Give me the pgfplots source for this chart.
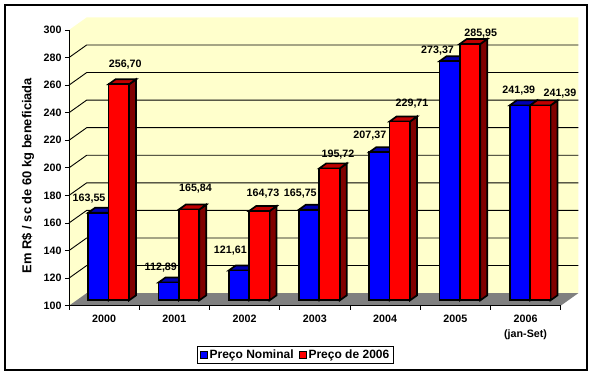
\documentclass[border=0pt]{standalone}
\usepackage{fontspec}
\setmainfont{Liberation Sans}
\usepackage{pgfplots}
\pgfplotsset{compat=1.18}
\usepackage{pgfplotstable}
\usetikzlibrary{calc}

\definecolor{wall}{RGB}{255,255,204}
\definecolor{floorc}{RGB}{128,128,128}
\definecolor{bfront}{RGB}{0,0,255}
\definecolor{btop}{RGB}{0,0,176}
\definecolor{bside}{RGB}{0,0,128}
\definecolor{rfront}{RGB}{255,0,0}
\definecolor{rtop}{RGB}{192,0,0}
\definecolor{rside}{RGB}{128,0,0}

\pgfplotstableread{
x v lx ly
0 163.55 -1.7 19.1
1 112.89 -0.2 19.9
2 121.61 -0.9 25.2
3 165.75 -1.2 21.1
4 207.37 -1.9 21.7
5 273.37 -4.4 15.7
6 241.39 6.6 19.8
}\nominal

\pgfplotstableread{
x v lx ly
0 256.70 14.1 25.5
1 165.84 14.1 25.9
2 164.73 11.4 22.5
3 195.72 16.1 18.8
4 229.71 19.9 22.9
5 285.95 18.4 15.4
6 241.39 27.4 16.8
}\real

% 3D bar drawn as a plot mark: front face, top face, right side face
\newcommand\prism[3]{%
  \pgfscope
  \pgfmathsetmacro\hh{(\rv-100)*1.3785}%
  \pgfsetlinewidth{1.7pt}\pgfsetstrokecolor{black}\pgfsetmiterjoin
  \pgfsetfillcolor{#3}%
  \pgfpathmoveto{\pgfpoint{17.95pt}{5.4pt-\hh pt}}%
  \pgfpathlineto{\pgfpoint{24.95pt}{10.4pt-\hh pt}}%
  \pgfpathlineto{\pgfpoint{24.95pt}{10.4pt}}%
  \pgfpathlineto{\pgfpoint{17.95pt}{5.4pt}}%
  \pgfpathclose\pgfusepath{fill,stroke}%
  \pgfsetfillcolor{#2}%
  \pgfpathmoveto{\pgfpoint{-2.55pt}{5.4pt}}%
  \pgfpathlineto{\pgfpoint{17.95pt}{5.4pt}}%
  \pgfpathlineto{\pgfpoint{24.95pt}{10.4pt}}%
  \pgfpathlineto{\pgfpoint{4.45pt}{10.4pt}}%
  \pgfpathclose\pgfusepath{fill,stroke}%
  \pgfsetfillcolor{#1}%
  \pgfpathrectangle{\pgfpoint{-2.55pt}{5.4pt-\hh pt}}{\pgfpoint{20.5pt}{\hh pt}}%
  \pgfusepath{fill,stroke}%
  \endpgfscope
}
\pgfdeclareplotmark{prismB}{\prism{bfront}{btop}{bside}}
\pgfdeclareplotmark{prismR}{\prism{rfront}{rtop}{rside}}

\begin{document}
\begin{tikzpicture}
\useasboundingbox (-69pt,-70.3pt) rectangle (525pt,305.7pt);
\begin{axis}[
  scale only axis,
  width=491.7pt, height=275.7pt,
  xmin=-0.5, xmax=6.5, ymin=100, ymax=300,
  clip=false,
  axis on top,
  axis x line*=bottom, axis y line*=left,
  axis line style={-, line width=0.9pt},
  tick align=outside,
  major tick length=4pt,
  tick style={black, line width=0.9pt},
  /pgf/number format/assume math mode=true,
  ytick={100,120,...,300},
  xtick={-0.5,0.5,...,6.5},
  xticklabels={,,,,,,,,},
  extra x ticks={0,1,...,6},
  extra x tick labels={2000,2001,2002,2003,2004,2005,{2006\\(jan-Set)}},
  extra x tick style={tick style={draw=none}},
  tick label style={font=\fontsize{10.7}{14.5}\selectfont\bfseries},
  xticklabel style={align=center, yshift=-2pt},
  ylabel={Em R\$ / sc de 60 kg beneficiada},
  ylabel style={at={(axis description cs:-0.0834,0.4723)}, anchor=center, font=\fontsize{12.9}{15}\selectfont\bfseries},
  legend style={at={(axis description cs:0.4607,-0.1788)}, anchor=center, draw=black, line width=0.9pt,
    font=\fontsize{12}{14}\selectfont\bfseries, inner xsep=2pt, inner ysep=1.5pt,
    /tikz/every even column/.append style={column sep=3pt}},
  legend columns=-1,
]
% walls
\fill[wall] (axis cs:-0.5,100) -- (axis cs:-0.5,300)
  -- ($(axis cs:-0.5,300)+(17.7pt,12.6pt)$) -- ($(axis cs:6.5,300)+(17.7pt,12.6pt)$)
  -- ($(axis cs:6.5,100)+(17.7pt,12.6pt)$) -- ($(axis cs:-0.5,100)+(17.7pt,12.6pt)$) -- cycle;
\fill[floorc] (axis cs:-0.5,100) -- (axis cs:6.5,100)
  -- ($(axis cs:6.5,100)+(17.7pt,12.6pt)$) -- ($(axis cs:-0.5,100)+(17.7pt,12.6pt)$) -- cycle;
\pgfplotsinvokeforeach{120,140,...,280}{
  \draw[black, line width=0.9pt] (axis cs:-0.5,#1) -- ($(axis cs:-0.5,#1)+(17.7pt,12.6pt)$)
    -- ($(axis cs:6.5,#1)+(17.7pt,12.6pt)$);
}
\addplot[scatter, only marks, mark=prismB,
  scatter/@pre marker code/.code={}, scatter/@post marker code/.code={},
  visualization depends on={\thisrow{v} \as \rv},
  visualization depends on={\thisrow{lx} \as \lx},
  visualization depends on={\thisrow{ly} \as \ly},
  point meta={\thisrow{v}},
  nodes near coords={\pgfmathprintnumber[fixed,fixed zerofill,precision=2,use comma,assume math mode=true]{\pgfplotspointmeta}},
  nodes near coords style={anchor=center, xshift=\lx pt, yshift=\ly pt, text=black, font=\fontsize{10.7}{12}\selectfont\bfseries},
  legend image code/.code={\draw[fill=bfront,draw=black,line width=0.9pt] (0pt,-3.5pt) rectangle (7pt,3.5pt);},
] table[x expr=\thisrow{x}-0.19, y=v] {\nominal};
\addlegendentry{Preço Nominal}
\addplot[scatter, only marks, mark=prismR,
  scatter/@pre marker code/.code={}, scatter/@post marker code/.code={},
  visualization depends on={\thisrow{v} \as \rv},
  visualization depends on={\thisrow{lx} \as \lx},
  visualization depends on={\thisrow{ly} \as \ly},
  point meta={\thisrow{v}},
  nodes near coords={\pgfmathprintnumber[fixed,fixed zerofill,precision=2,use comma,assume math mode=true]{\pgfplotspointmeta}},
  nodes near coords style={anchor=center, xshift=\lx pt, yshift=\ly pt, text=black, font=\fontsize{10.7}{12}\selectfont\bfseries},
  legend image code/.code={\draw[fill=rfront,draw=black,line width=0.9pt] (0pt,-3.5pt) rectangle (7pt,3.5pt);},
] table[x expr=\thisrow{x}+0.10, y=v] {\real};
\addlegendentry{Preço de 2006}
\end{axis}
\draw[black, line width=1.2pt] (-64pt,-64.3pt) rectangle (518pt,300.7pt);
\end{tikzpicture}
\end{document}
